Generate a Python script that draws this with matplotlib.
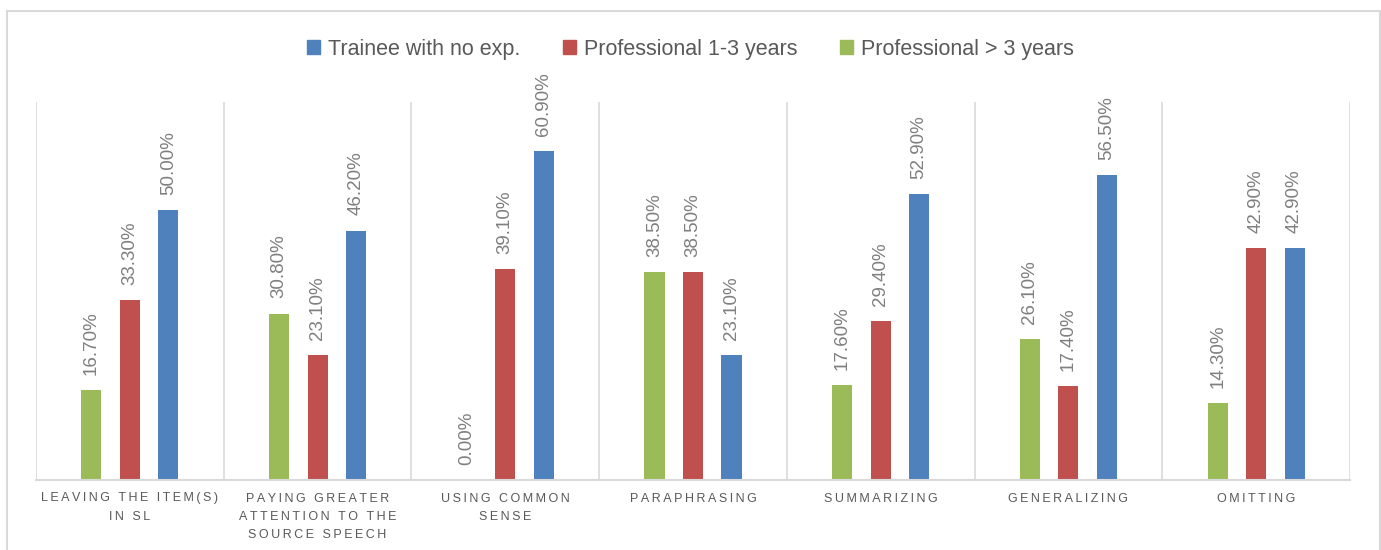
import numpy as np
import matplotlib.pyplot as plt
from matplotlib.patches import Rectangle, Patch

plt.rcParams['font.family'] = ['Liberation Sans', 'DejaVu Sans']

categories = ["LEAVING THE ITEM(S)\nIN SL",
              "PAYING GREATER\nATTENTION TO THE\nSOURCE SPEECH",
              "USING COMMON\nSENSE",
              "PARAPHRASING",
              "SUMMARIZING",
              "GENERALIZING",
              "OMITTING"]
trainee = [50.0, 46.2, 60.9, 23.1, 52.9, 56.5, 42.9]
prof_1_3 = [33.3, 23.1, 39.1, 38.5, 29.4, 17.4, 42.9]
prof_3plus = [16.7, 30.8, 0.0, 38.5, 17.6, 26.1, 14.3]

series_names = ["Trainee with no exp.", "Professional 1-3 years", "Professional > 3 years"]
colors = ["#4F81BD", "#C0504D", "#9BBB59"]

def spaced(s):
    # mimic the wide letter spacing of the category labels
    return "\n".join("\u2009".join(line) for line in s.split("\n"))

fig = plt.figure(figsize=(13.81, 5.5), dpi=100)
fig.patches.append(Rectangle((7 / 1381, -0.05), 1373 / 1381, 1.05 - 11 / 550,
                             transform=fig.transFigure, fill=False,
                             edgecolor="#d9d9d9", linewidth=1.5))
ax = fig.add_axes([36 / 1381, 1 - 480 / 550, 1314 / 1381, 378 / 550])

x = np.arange(len(categories))
w = 0.107
off = 0.205
series = [(prof_3plus, colors[2], -off), (prof_1_3, colors[1], 0), (trainee, colors[0], off)]
for vals, c, dx in series:
    bars = ax.bar(x + dx, vals, width=w, color=c)
    for b, v in zip(bars, vals):
        ax.annotate(f"{v:.2f}%", (b.get_x() + b.get_width() / 2, v),
                    xytext=(0, 11), textcoords="offset points",
                    rotation=90, ha="center", va="bottom",
                    fontsize=13.5, color="#7f7f7f")

ax.set_xlim(-0.5, len(categories) - 0.5)
ax.set_ylim(0, 70)
for b in np.arange(len(categories) + 1) - 0.5:
    ax.axvline(b, color="#d9d9d9", linewidth=1.2, zorder=0)
for s in ["top", "right", "left"]:
    ax.spines[s].set_visible(False)
ax.spines["bottom"].set_color("#d9d9d9")
ax.spines["bottom"].set_linewidth(1.5)
ax.set_yticks([])
ax.set_xticks(x)
ax.set_xticklabels([spaced(c) for c in categories], fontsize=9,
                   color="#595959", linespacing=1.7)
ax.tick_params(axis="x", length=0, pad=9)

handles = [Patch(color=c) for c in colors]
fig.legend(handles, series_names, loc="center", bbox_to_anchor=(0.5, 1 - 49 / 550),
           ncol=3, frameon=False, fontsize=15.5, labelcolor="#595959",
           handlelength=0.6, handleheight=0.6, handletextpad=0.35, columnspacing=2.0)

fig.savefig("out.png", dpi=100)
